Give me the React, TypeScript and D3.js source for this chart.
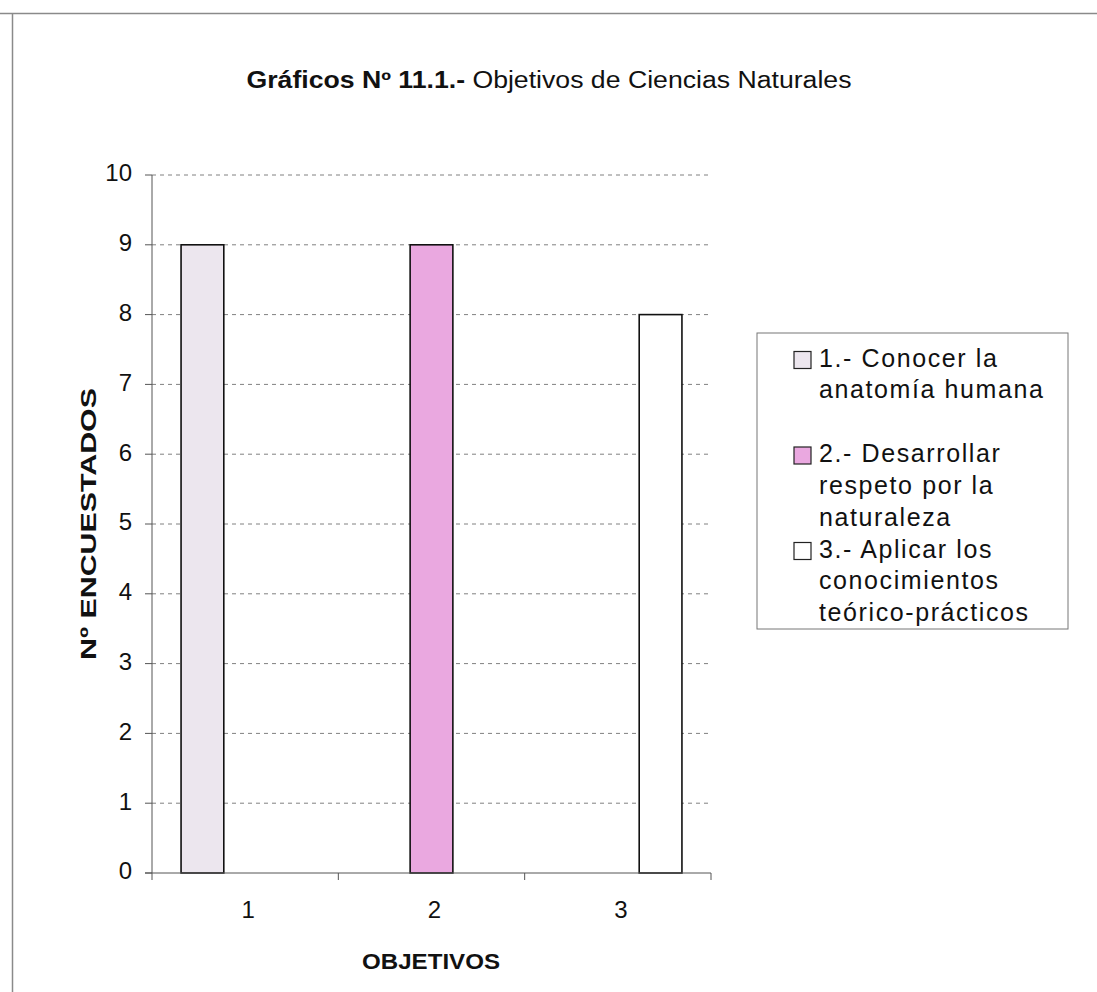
import React from "react";
import * as d3 from "d3";

const categories = ["1", "2", "3"];
const seriesNames = [
  ["1.- Conocer la", "anatomía humana"],
  ["2.- Desarrollar", "respeto por la", "naturaleza"],
  ["3.- Aplicar los", "conocimientos", "teórico-prácticos"],
];
const seriesValues = [
  [9, 0, 0],
  [0, 9, 0],
  [0, 0, 8],
];
const seriesColors = ["#ECE6EE", "#EAA8E0", "#FFFFFF"];
const yTicks = [0, 1, 2, 3, 4, 5, 6, 7, 8, 9, 10];

const W = 1097;
const H = 992;
const plot = { left: 152, right: 711, top: 175, bottom: 873 };
const FONT = "'Liberation Sans', Arial, sans-serif";

export default function App() {
  const x0 = d3.scaleBand<string>().domain(categories).range([plot.left, plot.right]).padding(0);
  const x1 = d3
    .scaleBand<number>()
    .domain([0, 1, 2])
    .range([0, x0.bandwidth()])
    .paddingInner(0)
    .paddingOuter(0.68);
  const y = d3.scaleLinear().domain([0, 10]).range([plot.bottom, plot.top]);

  const legend = { x: 757, y: 333, w: 311, h: 296 };
  const lineH = 31.7;
  const entryStarts = [360, 455.5, 551];

  return (
    <svg
      width={W}
      height={H}
      style={{ position: "absolute", left: 0, top: 0, background: "#fff" }}
      fontFamily={FONT}
    >
      <rect x={0} y={0} width={W} height={H} fill="#fff" />
      {/* outer border */}
      <line x1={0} y1={13.5} x2={W} y2={13.5} stroke="#8a8a8a" strokeWidth={1.5} />
      <line x1={12.5} y1={13} x2={12.5} y2={H} stroke="#8a8a8a" strokeWidth={1.5} />

      {/* title */}
      <text
        x={549}
        y={82}
        textAnchor="middle"
        dominantBaseline="middle"
        fontSize={23}
        fill="#111"
        textLength={605}
        lengthAdjust="spacingAndGlyphs"
      >
        <tspan fontWeight="bold">Gráficos Nº 11.1.-</tspan>
        <tspan> Objetivos de Ciencias Naturales</tspan>
      </text>

      {/* gridlines */}
      {yTicks
        .filter((t) => t > 0)
        .map((t) => (
          <line
            key={"g" + t}
            x1={plot.left}
            x2={plot.right}
            y1={y(t)}
            y2={y(t)}
            stroke="#808080"
            strokeWidth={1}
            strokeDasharray="4,4"
          />
        ))}

      {/* bars */}
      {seriesValues.map((vals, si) =>
        vals.map((v, ci) =>
          v > 0 ? (
            <rect
              key={si + "-" + ci}
              x={(x0(categories[ci]) as number) + (x1(si) as number)}
              y={y(v)}
              width={x1.bandwidth()}
              height={y(0) - y(v)}
              fill={seriesColors[si]}
              stroke="#111"
              strokeWidth={1.6}
            />
          ) : null
        )
      )}

      {/* y axis */}
      <line x1={plot.left} x2={plot.left} y1={plot.top} y2={plot.bottom} stroke="#555" strokeWidth={1} />
      {yTicks.map((t) => (
        <g key={"yt" + t}>
          <line x1={plot.left - 7} x2={plot.left} y1={y(t)} y2={y(t)} stroke="#555" strokeWidth={1} />
          <text
            x={plot.left - 20}
            y={y(t)}
            textAnchor="end"
            dominantBaseline="middle"
            fontSize={24}
            fill="#111"
          >
            {t}
          </text>
        </g>
      ))}

      {/* x axis */}
      <line x1={plot.left - 7} x2={plot.right} y1={plot.bottom} y2={plot.bottom} stroke="#555" strokeWidth={1} />
      {[...categories.map((c) => x0(c) as number), plot.right].map((xv, i) => (
        <line key={"xt" + i} x1={xv} x2={xv} y1={plot.bottom} y2={plot.bottom + 7} stroke="#555" strokeWidth={1} />
      ))}
      {categories.map((c) => (
        <text
          key={"xl" + c}
          x={(x0(c) as number) + x0.bandwidth() / 2 + 3}
          y={912}
          textAnchor="middle"
          dominantBaseline="middle"
          fontSize={24}
          fill="#111"
        >
          {c}
        </text>
      ))}

      {/* axis titles */}
      <text
        x={431}
        y={963}
        textAnchor="middle"
        dominantBaseline="middle"
        fontSize={22}
        fontWeight="bold"
        fill="#111"
        textLength={138}
        lengthAdjust="spacingAndGlyphs"
      >
        OBJETIVOS
      </text>
      <text
        transform={`translate(90, 524) rotate(-90)`}
        textAnchor="middle"
        dominantBaseline="middle"
        fontSize={22}
        fontWeight="bold"
        fill="#111"
        textLength={272}
        lengthAdjust="spacingAndGlyphs"
      >
        Nº ENCUESTADOS
      </text>

      {/* legend */}
      <rect x={legend.x} y={legend.y} width={legend.w} height={legend.h} fill="#fff" stroke="#777" strokeWidth={1} />
      {seriesNames.map((lines, si) => (
        <g key={"lg" + si}>
          <rect
            x={794}
            y={entryStarts[si] - 8.5}
            width={17}
            height={17}
            fill={seriesColors[si]}
            stroke="#222"
            strokeWidth={1.2}
          />
          {lines.map((ln, li) => (
            <text
              key={li}
              x={819}
              y={entryStarts[si] + li * lineH}
              dominantBaseline="middle"
              fontSize={25}
              letterSpacing={1.6}
              fill="#111"
            >
              {ln}
            </text>
          ))}
        </g>
      ))}
    </svg>
  );
}
